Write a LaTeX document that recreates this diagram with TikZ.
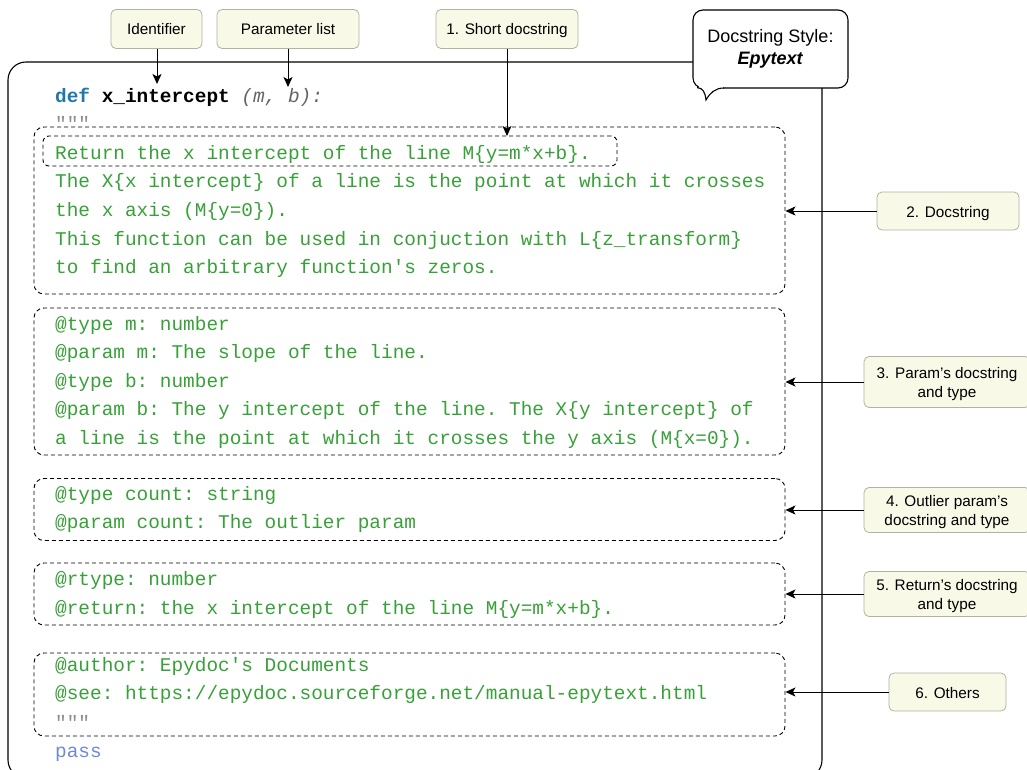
\documentclass[tikz,border=0pt]{standalone}
\usepackage{fontspec}
\setmainfont{Liberation Sans}
\setmonofont{Liberation Mono}
\usetikzlibrary{arrows.meta}
\definecolor{cgreen}{RGB}{56,160,56}
\definecolor{defblue}{RGB}{35,118,172}
\definecolor{passblue}{RGB}{108,138,214}
\definecolor{pgray}{RGB}{100,100,100}
\definecolor{qgray}{RGB}{140,140,140}
\definecolor{lblfill}{RGB}{249,249,232}
\definecolor{lblborder}{RGB}{178,178,160}
\begin{document}
\begin{tikzpicture}[x=1pt,y=-1pt,
  code/.style={anchor=base west, inner sep=0pt, font=\fontsize{19.4}{23}\selectfont\ttfamily, text=cgreen},
  lbl/.style={draw=lblborder, fill=lblfill, rounded corners=5pt, line width=0.8pt,
     font=\fontsize{15.3}{19}\selectfont, align=center, inner sep=0pt, text depth=0pt},
  lblone/.style={lbl, text height=12pt, text depth=0pt},
  dbox/.style={draw, line width=0.9pt, dash pattern=on 4pt off 3pt, rounded corners=10pt, inner sep=0pt},
  arr/.style={line width=1pt, -{Stealth[length=10pt,width=9pt,inset=2.5pt]}}]
\useasboundingbox (0,0) rectangle (1027,770);
\clip (0,0) rectangle (1027,770);

% main frame
\draw[line width=1.1pt, rounded corners=18pt] (8,62) rectangle (822,778);

% callout
\draw[line width=1.1pt, fill=white, rounded corners=10pt] (693,10) rectangle (848,88);
\fill[white] (699,86.5) rectangle (723,89.5);
\draw[line width=1.1pt] (697,87.6) .. controls (703,88) and (705,92) .. (706,100)
   .. controls (710,93) and (715,88) .. (724,88);
\node[font=\fontsize{18}{22}\selectfont, align=center] (callout) at (770.5,49)
   {Docstring Style:\\\textbf{\textit{Epytext}}};

% dashed groups
\node[dbox, minimum width=751, minimum height=167] (b1) at (409.5,210.5) {};
\node[dbox, minimum width=574, minimum height=30, rounded corners=6pt] (sd) at (330,151) {};
\node[dbox, minimum width=751, minimum height=147] (b2) at (409.5,381.5) {};
\node[dbox, minimum width=751, minimum height=62] (b3) at (409.5,509.5) {};
\node[dbox, minimum width=751, minimum height=62] (b4) at (409.5,594) {};
\node[dbox, minimum width=751, minimum height=83] (b5) at (409.5,694.5) {};

% code
\node[code] (l0) at (55,103) {\textcolor{defblue}{\bfseries def} \textcolor{black}{\bfseries x\_intercept} \textcolor{pgray}{\itshape (m, b):}};
\node[code, text=qgray] (q1) at (55,131) {"""};
\node[code] (r1) at (55,160) {Return the x intercept of the line M\{y=m*x+b\}.};
\node[code] (r2) at (55,188) {The X\{x intercept\} of a line is the point at which it crosses};
\node[code] (r3) at (55,216) {the x axis (M\{y=0\}).};
\node[code] (r4) at (55,245) {This function can be used in conjuction with L\{z\_transform\}};
\node[code] (r5) at (55,273) {to find an arbitrary function's zeros.};
\node[code] (p1) at (55,330) {@type m: number};
\node[code] (p2) at (55,358) {@param m: The slope of the line.};
\node[code] (p3) at (55,387) {@type b: number};
\node[code] (p4) at (55,415) {@param b: The y intercept of the line. The X\{y intercept\} of};
\node[code] (p5) at (55,444) {a line is the point at which it crosses the y axis (M\{x=0\}).};
\node[code] (o1) at (55,500) {@type count: string};
\node[code] (o2) at (55,528) {@param count: The outlier param};
\node[code] (t1) at (55,585) {@rtype: number};
\node[code] (t2) at (55,614) {@return: the x intercept of the line M\{y=m*x+b\}.};
\node[code] (e1) at (55,671) {@author: Epydoc's Documents};
\node[code] (e2) at (55,699) {@see: https://epydoc.sourceforge.net/manual-epytext.html};
\node[code, text=qgray] (q2) at (55,729) {"""};
\node[code, text=passblue] (ps) at (55,757) {pass};

% top labels
\node[lblone, minimum width=91, minimum height=39] (ident) at (156.5,29) {Identifier};
\node[lblone, minimum width=142, minimum height=39] (plist) at (288,29) {Parameter list};
\node[lblone, minimum width=142, minimum height=39] (shortd) at (507,29) {1. Short docstring};
\coordinate (identtip) at (157,84);
\coordinate (plisttip) at (288,87);
\coordinate (sdtip) at (507,136);
\draw[arr] (ident.south -| identtip) -- (identtip);
\draw[arr] (plist.south) -- (plisttip);
\draw[arr] (shortd.south) -- (sdtip);

% right labels
\node[lblone, minimum width=142, minimum height=38] (docs) at (948,211) {2. Docstring};
\node[lbl, minimum width=166, minimum height=51] (params) at (947,382) {3. Param's docstring\\and type};
\node[lbl, minimum width=166, minimum height=45] (outl) at (947,510) {4. Outlier param's\\docstring and type};
\node[lbl, minimum width=166, minimum height=45] (ret) at (947,594) {5. Return's docstring\\and type};
\node[lblone, minimum width=117, minimum height=38] (others) at (947.5,692) {6. Others};
\draw[arr] (docs.west) -- (docs.west -| b1.east);
\draw[arr] (params.west) -- (params.west -| b2.east);
\draw[arr] (outl.west) -- (outl.west -| b3.east);
\draw[arr] (ret.west) -- (ret.west -| b4.east);
\draw[arr] (others.west) -- (others.west -| b5.east);
\end{tikzpicture}
\end{document}
